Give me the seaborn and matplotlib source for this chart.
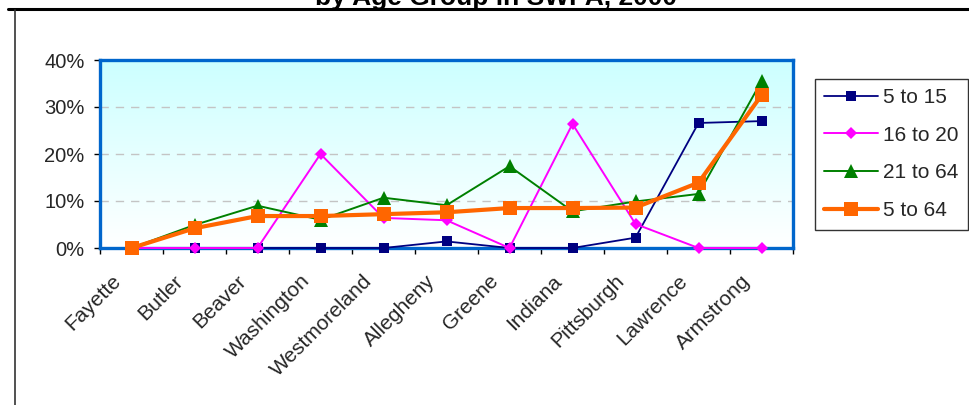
import numpy as np
import pandas as pd
import matplotlib
matplotlib.use("Agg")
import matplotlib.pyplot as plt
from matplotlib.lines import Line2D
from matplotlib.ticker import FixedLocator, PercentFormatter
from matplotlib.colors import LinearSegmentedColormap
from matplotlib.transforms import ScaledTranslation
import seaborn as sns

categories = ["Fayette", "Butler", "Beaver", "Washington", "Westmoreland",
              "Allegheny", "Greene", "Indiana", "Pittsburgh", "Lawrence", "Armstrong"]
age_5_15 = [0.0, 0.0, 0.0, 0.0, 0.0, 1.4, 0.0, 0.0, 2.2, 26.6, 27.0]
age_16_20 = [0.0, 0.0, 0.0, 20.0, 6.4, 5.9, 0.0, 26.4, 5.1, 0.0, 0.0]
age_21_64 = [0.0, 4.9, 9.0, 6.0, 10.7, 9.1, 17.4, 7.8, 9.9, 11.5, 35.5]
age_5_64 = [0.0, 4.2, 6.8, 6.8, 7.2, 7.6, 8.5, 8.5, 8.6, 13.9, 32.5]
series_names = ["5 to 15", "16 to 20", "21 to 64", "5 to 64"]
yticks = [0, 10, 20, 30, 40]

sns.set_theme(style="white")
plt.rcParams["font.family"] = ["Liberation Sans", "DejaVu Sans"]

fig = plt.figure(figsize=(9.69, 4.05), dpi=100)
ax = fig.add_axes([100/969, 1-248/405, 693/969, 188/405])

# gradient background
cmap = LinearSegmentedColormap.from_list("bg", ["#FFFFFF", "#CCFFFF"])
grad = np.linspace(0, 1, 256).reshape(-1, 1)
ax.imshow(grad, cmap=cmap, aspect="auto", origin="lower",
          extent=[0, 1, 0, 1], transform=ax.transAxes, zorder=0)

styles = [
    dict(color="#000080", marker="s", ms=7.5, lw=1.3),
    dict(color="#FF00FF", marker="D", ms=6.5, lw=1.4),
    dict(color="#008000", marker="^", ms=9.5, lw=1.4),
    dict(color="#FF6600", marker="s", ms=10, lw=3.0),
]
data = [age_5_15, age_16_20, age_21_64, age_5_64]
for name, vals, st in zip(series_names, data, styles):
    df = pd.DataFrame({"county": categories, "pct": vals})
    sns.lineplot(data=df, x="county", y="pct", ax=ax, sort=False,
                 color=st["color"], marker=st["marker"], markersize=st["ms"],
                 linewidth=st["lw"], markeredgewidth=0,
                 label=name, zorder=3, clip_on=False)

ax.set_xlim(-0.5, len(categories) - 0.5)
ax.set_ylim(0, 40)
ax.set_xlabel("")
ax.set_ylabel("")

ax.yaxis.set_major_locator(FixedLocator(yticks))
ax.yaxis.set_major_formatter(PercentFormatter(decimals=0))
for y in yticks[1:-1]:
    ax.axhline(y, color="#C4C4C4", lw=1.0, ls=(0, (6, 5)), zorder=1)

ax.set_xticks(range(len(categories)))
ax.set_xticklabels(categories, rotation=45, ha="right", va="center",
                   rotation_mode="anchor", fontsize=15)
ax.xaxis.set_minor_locator(FixedLocator(np.arange(-0.5, len(categories), 1)))
ax.tick_params(axis="x", which="major", length=0, pad=0)
ax.tick_params(axis="x", which="minor", length=4, width=1, color="black",
               direction="out", bottom=True)
ax.tick_params(axis="y", length=4, width=1, color="black", direction="out",
               left=True, labelsize=14.5, pad=7)

for side in ["top", "left", "right", "bottom"]:
    ax.spines[side].set_color("#0066CC")
    ax.spines[side].set_linewidth(2.4)
ax.axhline(0, color="black", lw=1, zorder=2)

leg = ax.legend(loc="center", bbox_to_anchor=(891.5/969, 1-154/405),
                bbox_transform=fig.transFigure,
                frameon=True, fancybox=False, fontsize=15,
                handlelength=2.6, borderpad=0.45, labelspacing=0.9,
                handletextpad=0.25, borderaxespad=0)
leg.get_frame().set_edgecolor("black")
leg.get_frame().set_linewidth(1)

# shift rotated category labels like the reference
offset = ScaledTranslation(-14/100, -30/100, fig.dpi_scale_trans)
for lbl in ax.get_xticklabels():
    lbl.set_transform(lbl.get_transform() + offset)

# chart area frame and clipped title
fig.add_artist(Line2D([8/969, 1], [1-9/405, 1-9/405], color="black", lw=2.2,
                      transform=fig.transFigure))
fig.add_artist(Line2D([15.5/969, 15.5/969], [0, 1-10/405], color="#333333", lw=1.2,
                      transform=fig.transFigure))
fig.text(496/969, 1-5.5/405, "by Age Group in SWPA, 2000", ha="center", va="baseline",
         fontsize=19, fontweight="bold", color="black")

fig.savefig("out.png", dpi=100)
